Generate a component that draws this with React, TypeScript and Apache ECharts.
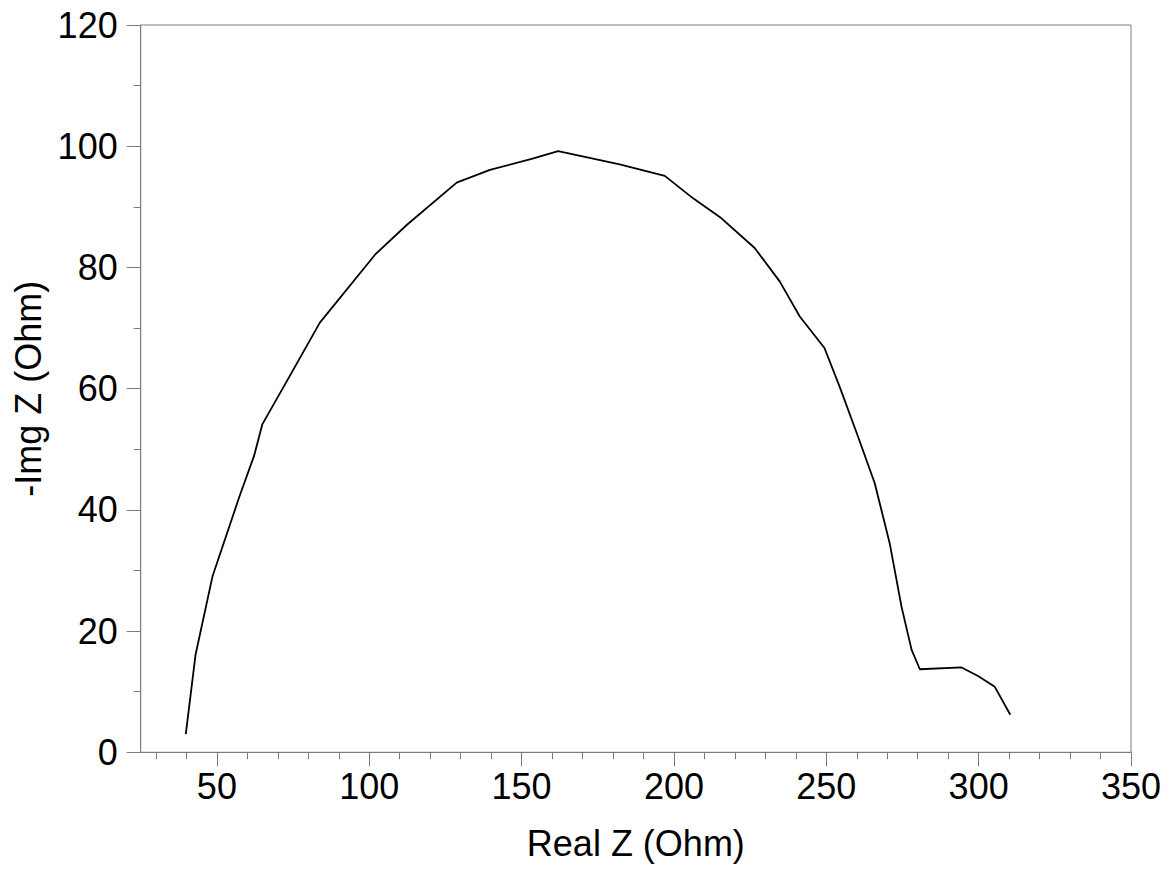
import React, { useEffect, useRef } from "react";
import * as echarts from "echarts";

const realZ = [
  39.8, 43.0, 48.6, 57.4, 62.2, 64.9, 74.5, 83.8, 101.9, 112.3, 128.7, 139.6,
  153.3, 162.0, 182.2, 197.0, 206.3, 215.6, 226.5, 234.7, 241.3, 249.4, 254.4,
  260.4, 265.9, 270.8, 274.7, 278.0, 280.7, 294.4, 299.8, 305.3, 310.4,
];
const imgZ = [
  3.0, 16.1, 29.1, 42.2, 48.9, 54.1, 62.6, 70.9, 82.1, 87.0, 94.0, 96.1,
  97.9, 99.2, 97.0, 95.1, 91.4, 88.1, 83.2, 77.7, 71.9, 66.7, 60.3,
  52.1, 44.4, 34.5, 24.0, 16.9, 13.7, 14.0, 12.6, 10.8, 6.2,
];
const xMajorTicks = [50, 100, 150, 200, 250, 300, 350];
const xMinorTicks = [30, 40, 60, 70, 80, 90, 110, 120, 130, 140, 160, 170, 180, 190, 210, 220, 230, 240, 260, 270, 280, 290, 310, 320, 330, 340];
const xTitle = "Real Z (Ohm)";
const yTitle = "-Img Z (Ohm)";

const FONT = "'Liberation Sans', Arial, Helvetica, sans-serif";
const AXIS_COLOR = "#7a7a7a";
const FS = 36;

export default function App() {
  const ref = useRef<HTMLDivElement>(null);
  useEffect(() => {
    const chart = echarts.init(ref.current!, null, { renderer: "svg" });
    const data = realZ.map((x, i) => [x, imgZ[i]]);
    chart.setOption({
      animation: false,
      backgroundColor: "#ffffff",
      grid: {
        left: 140.7,
        right: 39,
        top: 25,
        bottom: 116.7,
        show: true,
        borderColor: AXIS_COLOR,
        borderWidth: 1,
        backgroundColor: "transparent",
      },
      xAxis: [
        {
          type: "value",
          min: 25,
          max: 350,
          name: xTitle,
          nameLocation: "middle",
          nameGap: 73,
          nameTextStyle: { fontFamily: FONT, fontSize: FS, color: "#000" },
          axisLine: { show: true, onZero: false, lineStyle: { color: AXIS_COLOR, width: 1 } },
          axisTick: {
            show: true,
            customValues: xMajorTicks,
            length: 14,
            lineStyle: { color: AXIS_COLOR, width: 1 },
          },
          axisLabel: {
            customValues: xMajorTicks,
            fontFamily: FONT,
            fontSize: FS,
            color: "#000",
            margin: 16,
          },
          splitLine: { show: false },
        },
        {
          type: "value",
          min: 25,
          max: 350,
          position: "bottom",
          axisLine: { show: false },
          axisTick: {
            show: true,
            customValues: xMinorTicks,
            length: 7,
            lineStyle: { color: AXIS_COLOR, width: 1 },
          },
          axisLabel: { show: false },
          splitLine: { show: false },
        },
      ],
      yAxis: {
        type: "value",
        min: 0,
        max: 120,
        interval: 20,
        name: yTitle,
        nameLocation: "middle",
        nameGap: 84,
        nameTextStyle: { fontFamily: FONT, fontSize: FS, color: "#000" },
        axisLine: { show: true, lineStyle: { color: AXIS_COLOR, width: 1 } },
        axisTick: { show: true, length: 14, lineStyle: { color: AXIS_COLOR, width: 1 } },
        minorTick: { show: true, splitNumber: 2, length: 7, lineStyle: { color: AXIS_COLOR, width: 1 } },
        axisLabel: { fontFamily: FONT, fontSize: FS, color: "#000", margin: 23 },
        splitLine: { show: false },
        minorSplitLine: { show: false },
      },
      series: [
        {
          type: "line",
          xAxisIndex: 0,
          data,
          showSymbol: false,
          symbol: "none",
          lineStyle: { color: "#000", width: 1.8 },
          itemStyle: { color: "#000" },
        },
      ],
    });
    return () => chart.dispose();
  }, []);
  return (
    <div
      ref={ref}
      style={{ position: "fixed", left: 0, top: 0, width: 1170, height: 869, background: "#fff" }}
    />
  );
}
